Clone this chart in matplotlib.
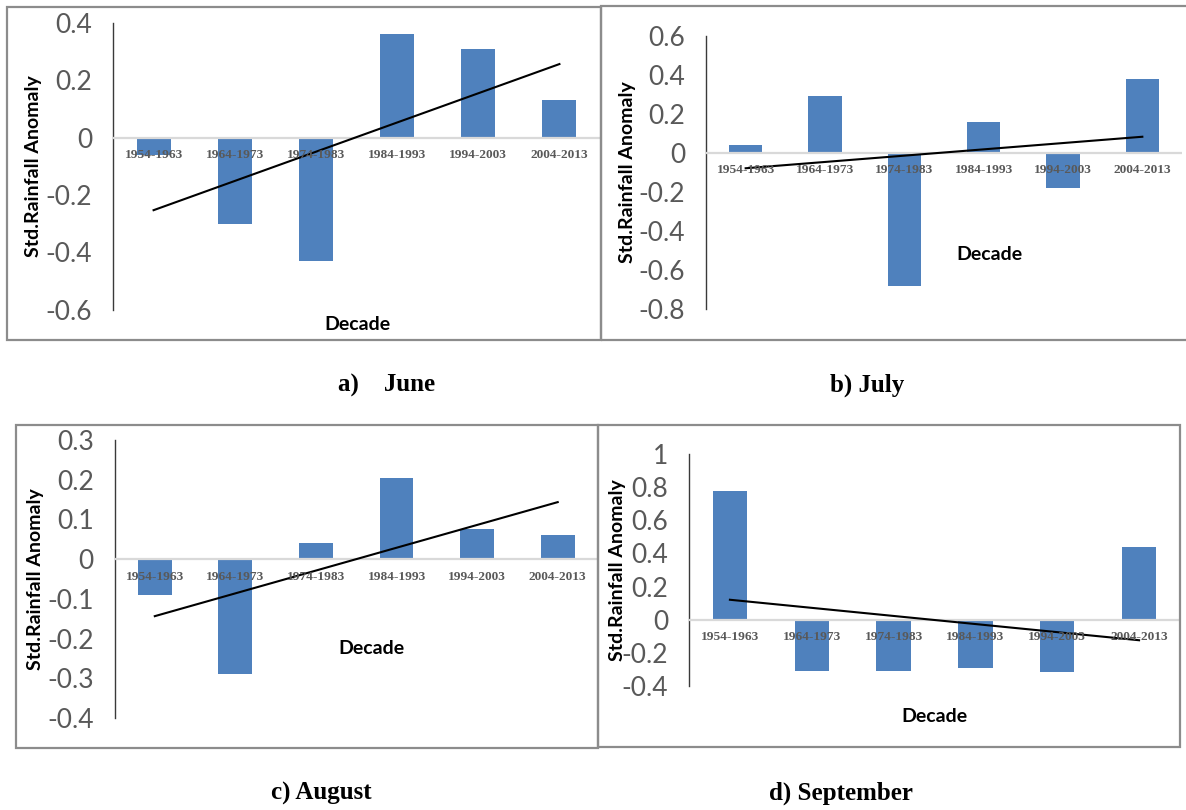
import numpy as np
import matplotlib.pyplot as plt
from matplotlib.patches import Rectangle

# decades on the category axis
decades = ["1954-1963", "1964-1973", "1974-1983", "1984-1993", "1994-2003", "2004-2013"]

# standardised rainfall anomaly per decade, one list per month
june = [-0.06, -0.30, -0.43, 0.36, 0.31, 0.13]
july = [0.04, 0.29, -0.68, 0.16, -0.18, 0.38]
august = [-0.09, -0.29, 0.04, 0.205, 0.075, 0.06]
september = [0.78, -0.31, -0.31, -0.295, -0.32, 0.44]

captions = ["a)    June", "b) July", "c) August", "d) September"]

W, H = 1186, 810
BLUE = "#4f81bd"
GREY = "#595959"

fig = plt.figure(figsize=(W / 100, H / 100), dpi=100)


def px_axes(x0, y0, x1, y1):
    # axes rectangle given in pixel coordinates (origin top-left)
    return fig.add_axes([x0 / W, 1 - y1 / H, (x1 - x0) / W, (y1 - y0) / H])


def frame(x0, y0, x1, y1):
    fig.patches.append(Rectangle((x0 / W, 1 - y1 / H), (x1 - x0) / W, (y1 - y0) / H,
                                 transform=fig.transFigure, fill=False,
                                 edgecolor="#8c8c8c", lw=1.6, zorder=0))


def panel(box, values, ylim, ticks, lab_y, decade_xy, ylab_x):
    x0, y0, x1, y1 = box
    ax = px_axes(x0, y0, x1, y1)
    x = np.arange(len(decades))
    ax.bar(x, values, width=0.42, color=BLUE, zorder=2)
    # linear trend through the decade anomalies
    a, b = np.polyfit(x, values, 1)
    ax.plot(x, a * x + b, color="black", lw=1.5, zorder=4)
    ax.axhline(0, color="#d9d9d9", lw=1.6, zorder=3)
    ax.set_xlim(-0.5, 5.5)
    ax.set_ylim(*ylim)
    ax.set_yticks(ticks)
    ax.set_yticklabels([f"{t:g}" for t in ticks], fontsize=19, color=GREY,
                       family="Lato")
    ax.set_xticks([])
    ax.tick_params(axis="y", length=0, pad=15)
    for s in ["top", "right", "bottom"]:
        ax.spines[s].set_visible(False)
    ax.spines["left"].set_color("#3a3a3a")
    ax.spines["left"].set_linewidth(1.0)
    ax.patch.set_alpha(0)
    for xi, d in zip(x, decades):
        ax.text(xi, 1 - (lab_y - y0) / (y1 - y0), d, transform=ax.get_xaxis_transform(),
                ha="center", va="center", fontsize=9.6, fontweight="bold", color=GREY,
                family="Liberation Serif", zorder=5)
    fig.text(decade_xy[0] / W, 1 - decade_xy[1] / H, "Decade", ha="center",
             va="center", fontsize=14, fontweight="bold", family="Lato")
    ax.set_ylabel("Std.Rainfall Anomaly", fontsize=14, fontweight="bold",
                  family="Lato")
    ax.yaxis.set_label_coords((ylab_x - x0) / (x1 - x0), 0.5)
    return ax


frame(7, 7, 601, 340)
frame(601, 6, 1190, 340)
frame(16, 425, 598, 748)
frame(598, 425, 1180, 747)

panel((113, 23, 600, 309.5), june, (-0.6, 0.4), [-0.6, -0.4, -0.2, 0, 0.2, 0.4],
      155, (357, 324), 42)
panel((706, 35.7, 1182, 309), july, (-0.8, 0.6),
      [-0.8, -0.6, -0.4, -0.2, 0, 0.2, 0.4, 0.6], 170, (989, 254), 636)
panel((114.5, 440, 598, 718), august, (-0.4, 0.3),
      [-0.4, -0.3, -0.2, -0.1, 0, 0.1, 0.2, 0.3], 577, (371, 648), 44)
panel((689, 454.3, 1180, 685.7), september, (-0.4, 1.0),
      [-0.4, -0.2, 0, 0.2, 0.4, 0.6, 0.8, 1], 637, (934, 717), 626)

# captions under each chart
for (cx, cy), txt in zip([(387, 385), (867, 385), (321, 793), (841, 793)], captions):
    fig.text(cx / W, 1 - cy / H, txt, ha="center", va="center", fontsize=18,
             fontweight="bold", family="Liberation Serif")

fig.savefig("out.png", dpi=100)
